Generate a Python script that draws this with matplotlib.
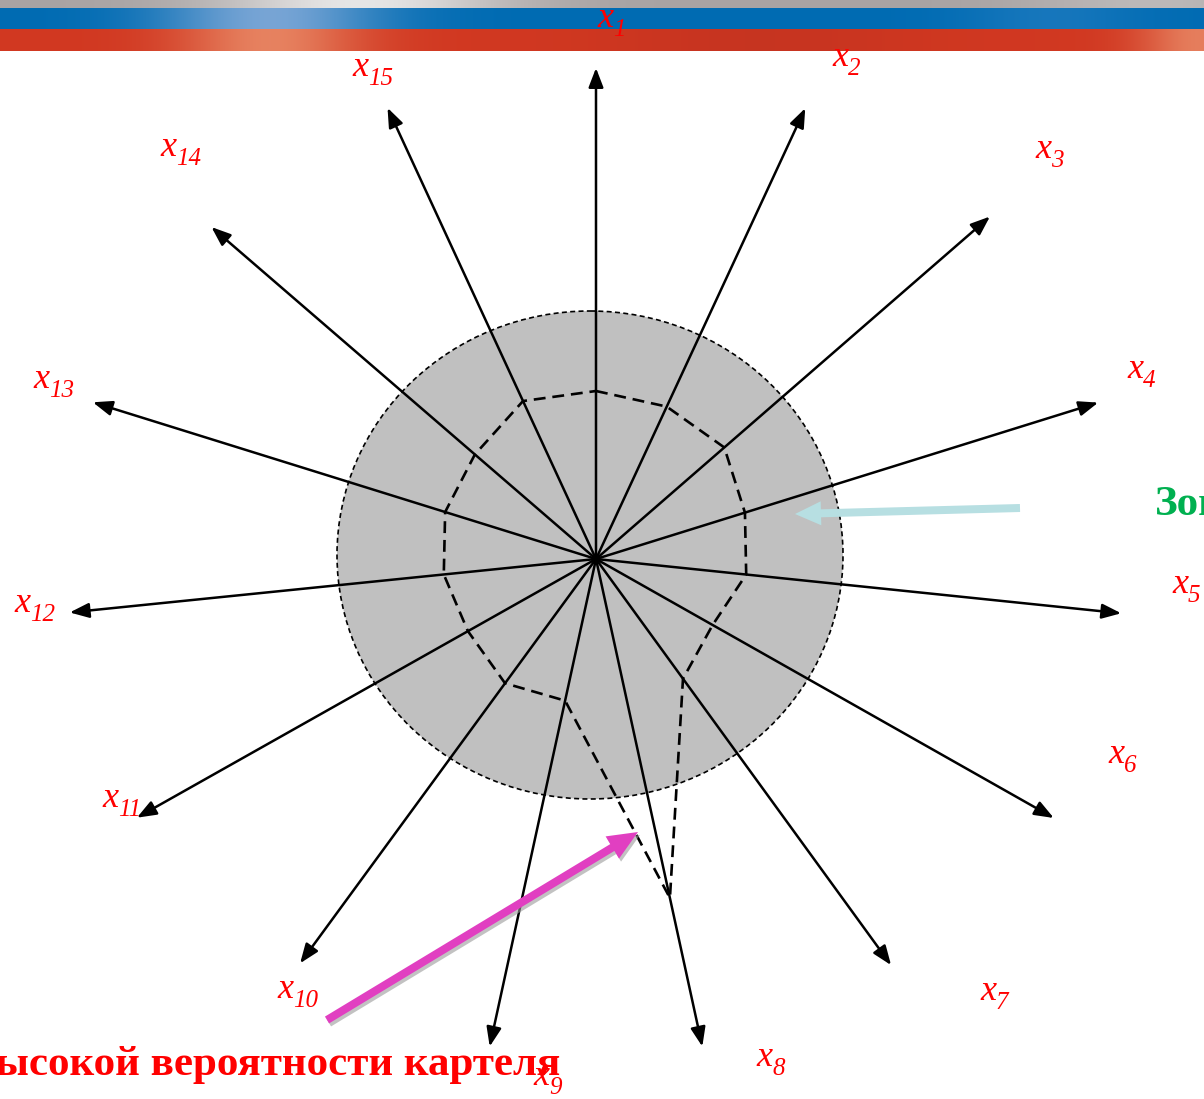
import numpy as np
import matplotlib
matplotlib.use("Agg")
import matplotlib.pyplot as plt
from matplotlib.patches import Ellipse

# ---- data ----
axis_names = ['1', '2', '3', '4', '5', '6', '7', '8', '9', '10', '11', '12', '13', '14', '15']
axis_angles = [90, 65.1, 41.0, 17.3, -5.9, -29.5, -54.0, -77.7, -102.3, -126.2, -150.6, -174.2, 162.7, 139.2, 114.8]
axis_lengths = [491, 497, 522, 526, 528, 526, 502, 499, 499, 501, 527, 529, 527, 508, 497]
series_values = [168, 168, 170, 156, 151, 134, 148, 347, 145, 154, 147, 153, 158, 160, 174]
label_pos = [(597, 27), (832, 66), (1035, 158), (1127, 378), (1172, 593), (1108, 763),
             (980, 1000), (756, 1066), (533, 1085), (277, 998), (102, 807), (14, 612),
             (33, 388), (160, 156), (352, 76)]
zone_text = 'Зона'
cartel_text = 'Зона высокой вероятности картеля'

W, H = 1204, 1099
fig = plt.figure(figsize=(W / 100, H / 100), dpi=100)
ax = fig.add_axes([0, 0, 1, 1])
ax.set_xlim(0, W)
ax.set_ylim(H, 0)
ax.axis('off')

# ---- top banner ----
xs = np.linspace(0, W, W)
def band(base, peaks):
    c = np.tile(np.array(base, float), (W, 1))
    for (pxc, pw, amt, col) in peaks:
        w = np.exp(-((xs - pxc) / pw) ** 2) * amt
        c = c * (1 - w[:, None]) + np.array(col, float)[None, :] * w[:, None]
    return c
gray = band((0.66, 0.64, 0.64), [(360, 140, 0.9, (0.93, 0.93, 0.93)), (1150, 120, 0.4, (0.85, 0.85, 0.85))])
blue = band((0.0, 0.42, 0.70), [(270, 110, 0.9, (0.52, 0.67, 0.85)), (1050, 90, 0.25, (0.35, 0.6, 0.85))])
red = band((0.82, 0.22, 0.13), [(270, 90, 0.85, (0.92, 0.56, 0.42)), (760, 150, 0.4, (0.72, 0.18, 0.12)), (1200, 60, 0.8, (0.92, 0.56, 0.42))])
banner = np.zeros((51, W, 3))
banner[0:8] = gray[None]
banner[8:29] = blue[None]
banner[29:51] = red[None]
ax.imshow(banner, extent=(0, W, 51, 0), aspect='auto', zorder=0, interpolation='bilinear')

# ---- radar ----
cx, cy = 596, 559
theta = np.deg2rad(np.array(axis_angles, float))

circ = Ellipse((590, 555), 506, 488, facecolor='#c0c0c0', edgecolor='black',
               linestyle=(0, (3, 2)), lw=1.2, zorder=1)
ax.add_patch(circ)

for L, t in zip(axis_lengths, theta):
    tip = (cx + L * np.cos(t), cy - L * np.sin(t))
    ax.annotate('', xy=tip, xytext=(cx, cy),
                arrowprops=dict(arrowstyle='-|>,head_length=0.65,head_width=0.25',
                                lw=1.8, color='black', mutation_scale=18,
                                shrinkA=0, shrinkB=0), zorder=3)

r = np.array(series_values, float)
px = cx + r * np.cos(theta)
py = cy - r * np.sin(theta)
ax.plot(np.append(px, px[0]), np.append(py, py[0]), color='black', lw=1.9,
        linestyle=(0, (4.5, 2.6)), zorder=2)

for name, (lx, ly) in zip(axis_names, label_pos):
    ax.text(lx, ly, 'x', color='red', fontsize=26, family='Liberation Serif',
            style='italic', ha='left', va='baseline', zorder=5)
    ax.text(lx + 16, ly + 9, name, color='red', fontsize=18, family='Liberation Serif',
            style='italic', ha='left', va='baseline', zorder=5)

# ---- annotation arrows ----
def fat_arrow(x0, y0, x1, y1, color, width, hw, hl, shadow=False):
    if shadow:
        ax.arrow(x0 + 2, y0 + 3, x1 - x0, y1 - y0, width=width, head_width=hw,
                 head_length=hl, length_includes_head=True, color='#9a9a9a',
                 alpha=0.6, lw=0, zorder=5)
    ax.arrow(x0, y0, x1 - x0, y1 - y0, width=width, head_width=hw, head_length=hl,
             length_includes_head=True, color=color, lw=0, zorder=6)

fat_arrow(327, 1020, 638, 832, '#e13fc1', 8, 26, 30, shadow=True)
fat_arrow(1020, 508, 795, 514, '#b7dfe2', 8, 24, 26)

ax.text(1155, 515, zone_text, color='#00b050', fontsize=31, fontweight='bold',
        family='Liberation Serif', ha='left', va='baseline', zorder=6)
ax.text(560, 1075, cartel_text, color='red', fontsize=31, fontweight='bold',
        family='Liberation Serif', ha='right', va='baseline', zorder=4)

fig.savefig('out.png', dpi=100)
